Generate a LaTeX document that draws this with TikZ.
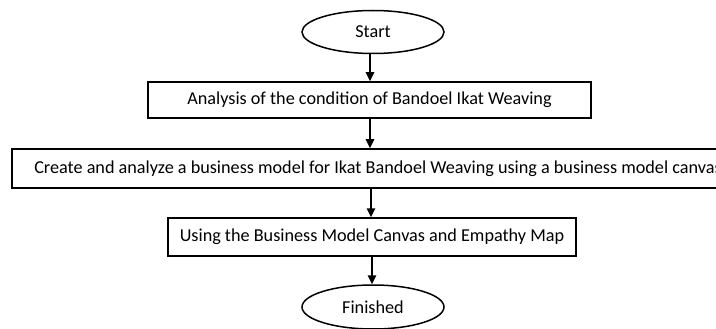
\documentclass[tikz,border=0pt]{standalone}
\usepackage{fontspec}
\setmainfont{Carlito}
\usetikzlibrary{shapes.geometric,arrows.meta}

\begin{document}
\begin{tikzpicture}[x=1pt, y=-1pt,
    terminal/.style = {draw, ellipse, line width = 1.5pt, minimum width = 142pt, minimum height = 43pt, inner sep = 0pt, font = \fontsize{18.2}{21}\selectfont},
    process/.style = {draw, rectangle, line width = 1.5pt, inner sep = 0pt, font = \fontsize{18.2}{21}\selectfont},
    flow/.style = {line width = 1.5pt, -{Triangle[length = 9pt, width = 8.5pt]}}]
  \clip (0, 0) rectangle (716, 329);
  \fill [white] (0, 0) rectangle (716, 329);

  \node [terminal] (start) at (373, 32) {Start};
  \node [process, minimum width = 443pt, minimum height = 36pt] (analysis) at (369.5, 100)
    {Analysis of the condition of Bandoel Ikat Weaving};
  \node [process, minimum width = 732pt, minimum height = 39pt] (canvas) at (378, 168.5)
    {Create and analyze a business model for Ikat Bandoel Weaving using a business model canvas};
  \node [process, minimum width = 408pt, minimum height = 38pt] (empathy) at (372, 237)
    {Using the Business Model Canvas and Empathy Map};
  \node [terminal, minimum height = 44pt] (finished) at (373, 307) {Finished};

  \draw [flow] (start.south -| 370, 0) -- (370, 0 |- analysis.north);
  \draw [flow] (analysis.south -| 370, 0) -- (370, 0 |- canvas.north);
  \draw [flow] (canvas.south -| 371, 0) -- (371, 0 |- empathy.north);
  \draw [flow] (empathy.south -| 372, 0) -- (372, 0 |- finished.north);
\end{tikzpicture}
\end{document}
